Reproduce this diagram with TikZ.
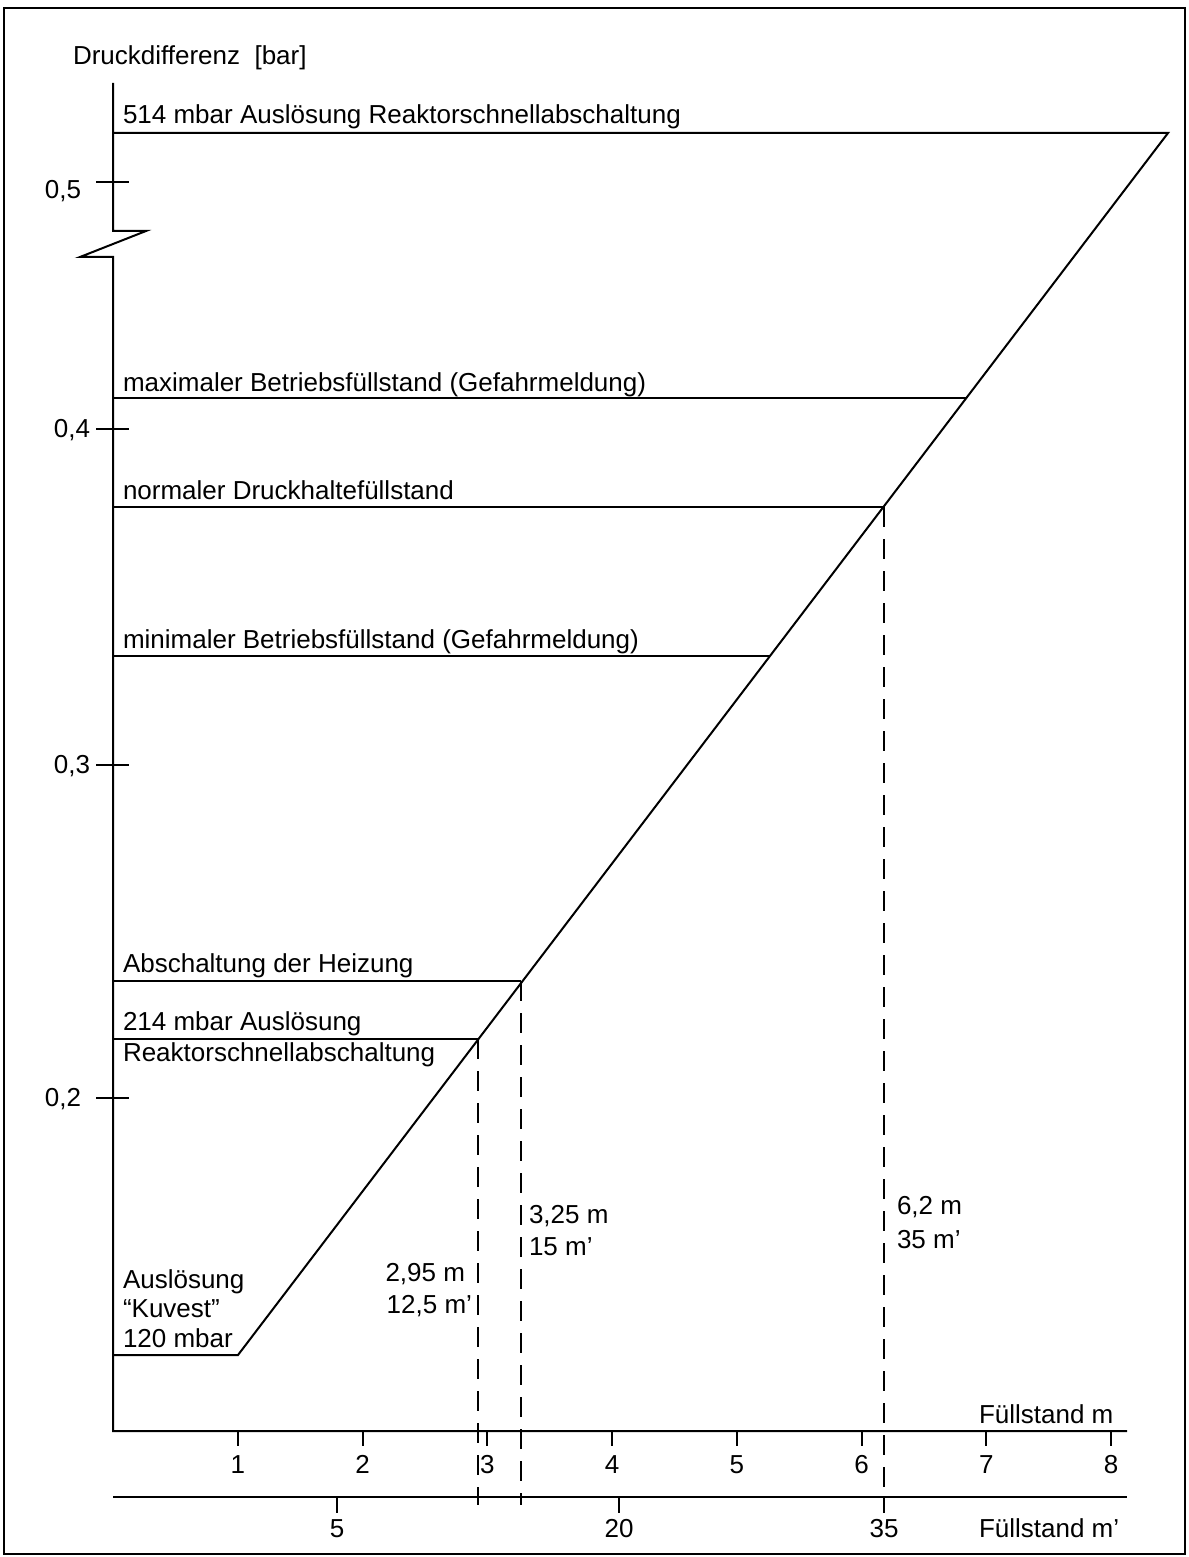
\documentclass[tikz,border=0pt]{standalone}
\usepackage{fontspec}
\setmainfont{Liberation Sans}
\begin{document}
\begin{tikzpicture}[x=0.5pt,y=-0.5pt,line width=1pt,line join=miter,
  txt/.style={inner sep=0pt,font=\fontsize{13}{15}\selectfont},
  lw/.style={txt,anchor=base west},
  le/.style={txt,anchor=base east},
  lc/.style={txt,anchor=base},
  dashline/.style={dash pattern=on 10pt off 6pt}]
\useasboundingbox (0,0) rectangle (1188,1557);
% frame
\draw (4,8) rectangle (1185,1554);

% y axis with break
\coordinate (ytop) at (113,83);
\coordinate (brkA) at (113,231);
\coordinate (brkB) at (146,231);
\coordinate (brkC) at (80,257);
\coordinate (brkD) at (113,257);
\coordinate (O) at (113,1431);
\coordinate (mEnd) at (1127,1431);
\coordinate (pStart) at (113,1497);
\coordinate (pEnd) at (1127,1497);
\draw (ytop) -- (brkA) -- (brkB) -- (brkC) -- (brkD) -- (O) -- (mEnd);
\draw (pStart) -- (pEnd);
\node[lw] (ylabel) at (72,65) {Druckdifferenz\ \ [bar]};

% y ticks
\foreach \yy/\nm in {182/a,429/b,765/c,1098/d}{
  \coordinate (tl\nm) at (96,\yy);
  \coordinate (tr\nm) at (129,\yy);
  \draw (tl\nm) -- (tr\nm);
}
\node[le] (y05) at (82,199) {0,5};
\node[le] (y04) at (91,437) {0,4};
\node[le] (y03) at (91,773) {0,3};
\node[le] (y02) at (82,1106) {0,2};

% characteristic curve
\coordinate (K0) at (113,1355);
\coordinate (K1) at (238,1355);
\coordinate (T1) at (1168,133);
\coordinate (T0) at (113,133);
\draw (K0) -- (K1) -- (T1) -- (T0);

% level lines
\coordinate (maxL) at (113,398);   \coordinate (maxR) at (966,398);
\coordinate (norL) at (113,507);   \coordinate (norR) at (884,507);
\coordinate (minL) at (113,656);   \coordinate (minR) at (770,656);
\coordinate (heiL) at (113,981);   \coordinate (heiR) at (521,981);
\coordinate (rsaL) at (113,1039);  \coordinate (rsaR) at (478,1039);
\draw (maxL) -- (maxR);
\draw (norL) -- (norR);
\draw (minL) -- (minR);
\draw (heiL) -- (heiR);
\draw (rsaL) -- (rsaR);

% level labels
\node[lw] (t514) at (122,124) {514 mbar Auslösung Reaktorschnellabschaltung};
\node[lw] (tmax) at (122,391) {maximaler Betriebsfüllstand (Gefahrmeldung)};
\node[lw] (tnor) at (122,499) {normaler Druckhaltefüllstand};
\node[lw] (tmin) at (122,648) {minimaler Betriebsfüllstand (Gefahrmeldung)};
\node[lw] (thei) at (122,972) {Abschaltung der Heizung};
\node[lw] (trs1) at (122,1030) {214 mbar Auslösung};
\node[lw] (trs2) at (122,1061) {Reaktorschnellabschaltung};
\node[lw] (tk1) at (122,1288) {Auslösung};
\node[lw] (tk2) at (122,1317) {“Kuvest”};
\node[lw] (tk3) at (122,1347) {120 mbar};

% dashed drop lines
\coordinate (d1b) at (478,1505);
\coordinate (d2b) at (521,1505);
\coordinate (d3b) at (884,1505);
\draw[dashline] (rsaR) -- (d1b);
\draw[dashline] (heiR) -- (d2b);
\draw[dashline] (norR) -- (d3b);
\node[le] (v1a) at (466,1281) {2,95 m};
\node[le] (v1b) at (473,1313) {12,5 m’};
\node[lw] (v2a) at (528,1223) {3,25 m};
\node[lw] (v2b) at (528,1255) {15 m’};
\node[lw] (v3a) at (896,1214) {6,2 m};
\node[lw] (v3b) at (896,1248) {35 m’};

% m axis ticks
\foreach \k in {1,...,8}{
  \coordinate (mt\k) at ({113+124.75*\k},1431);
  \coordinate (mb\k) at ({113+124.75*\k},1446);
  \draw (mt\k) -- (mb\k);
  \node[lc] (ml\k) at ({113+124.75*\k},1473) {\k};
}
\node[lw] (mlabel) at (978,1423) {Füllstand m};

% m' axis ticks
\foreach \xx/\v in {337/5,619/20,884/35}{
  \coordinate (pt\v) at (\xx,1497);
  \coordinate (pb\v) at (\xx,1513);
  \draw (pt\v) -- (pb\v);
  \node[lc] (pl\v) at (\xx,1537) {\v};
}
\node[lw] (plabel) at (978,1537) {Füllstand m’};
\end{tikzpicture}
\end{document}
